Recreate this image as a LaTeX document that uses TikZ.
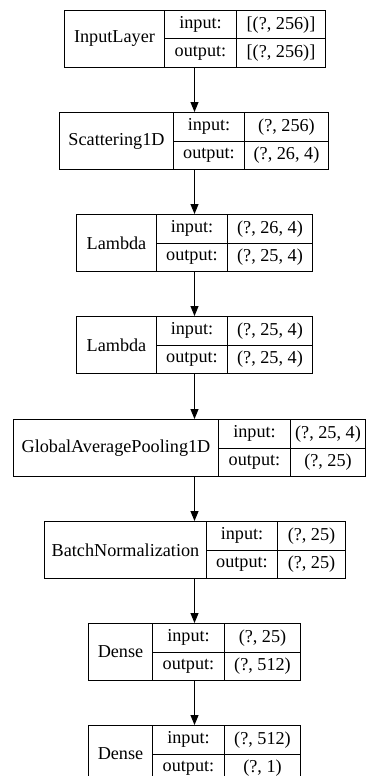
\documentclass[tikz,border=0pt]{standalone}
\usepackage{fontspec}
\setmainfont{Liberation Serif}
\usetikzlibrary{arrows.meta}

% One layer record: name cell | input:/output: | shapes
% #1 node prefix, #2 top, #3 left, #4 first divider, #5 second divider,
% #6 right, #7 layer name, #8 input shape, #9 output shape
\newcommand\layerrecord[9]{%
  \node[cell, anchor=north west, minimum width={(#4-#3)*1pt},
        minimum height=57pt] (#1) at (#3,#2) {#7};
  \node[cell, anchor=north west, minimum width={(#5-#4)*1pt}] (#1-il) at (#4,#2) {input:};
  \node[cell, anchor=north west, minimum width={(#5-#4)*1pt}] (#1-ol) at (#4,#2+28.5) {output:};
  \node[cell, anchor=north west, minimum width={(#6-#5)*1pt}] (#1-iv) at (#5,#2) {#8};
  \node[cell, anchor=north west, minimum width={(#6-#5)*1pt}] (#1-ov) at (#5,#2+28.5) {#9};
}

\begin{document}
\begin{tikzpicture}[x=1pt, y=-1pt,
  cell/.style={draw=black, line width=1pt, inner sep=0pt, minimum height=28.5pt,
               font=\fontsize{18.2}{20}\selectfont, text=black},
  flow/.style={draw=black, line width=1pt, -{Triangle[length=10pt,width=8pt]}}]
  \useasboundingbox (0,0) rectangle (366,776);
  \fill[white] (0,0) rectangle (366,776);

  \layerrecord{L1}{10}{64}{164}{236}{325}{InputLayer}{[(?, 256)]}{[(?, 256)]}
  \layerrecord{L2}{112}{59}{173}{244}{328}{Scattering1D}{(?, 256)}{(?, 26, 4)}
  \layerrecord{L3}{214}{76}{156}{227}{312}{Lambda}{(?, 26, 4)}{(?, 25, 4)}
  \layerrecord{L4}{316}{76}{156}{227}{312}{Lambda}{(?, 25, 4)}{(?, 25, 4)}
  \layerrecord{L5}{419}{13}{218}{290}{365}{GlobalAveragePooling1D}{(?, 25, 4)}{(?, 25)}
  \layerrecord{L6}{521}{44}{206}{277}{345}{BatchNormalization}{(?, 25)}{(?, 25)}
  \layerrecord{L7}{623}{88}{152}{224}{300}{Dense}{(?, 25)}{(?, 512)}
  \layerrecord{L8}{725}{88}{152}{224}{300}{Dense}{(?, 512)}{(?, 1)}

  % vertical line through which all connectors run
  \coordinate (ax) at (194.5,0);
  \foreach \a/\b in {L1/L2, L2/L3, L3/L4, L4/L5, L5/L6, L6/L7, L7/L8}
    \draw[flow] (\a.south -| ax) -- (\b.north -| ax);
\end{tikzpicture}
\end{document}
